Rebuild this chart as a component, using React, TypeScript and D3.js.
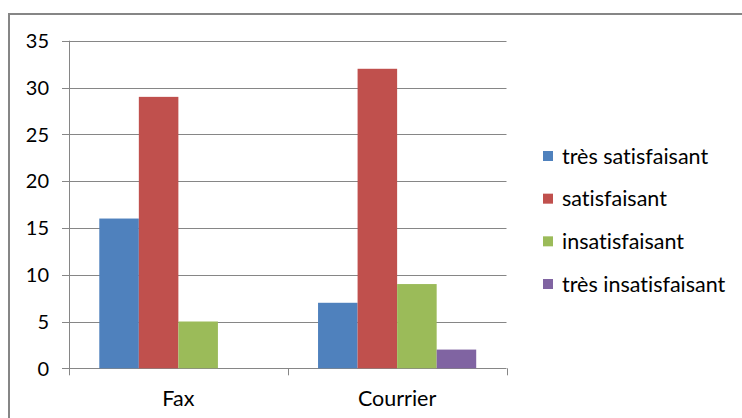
import React, { useEffect, useRef } from "react";
import * as d3 from "d3";

const categories = ["Fax", "Courrier"];
const seriesNames = ["très satisfaisant", "satisfaisant", "insatisfaisant", "très insatisfaisant"];
const seriesColors = ["#4F81BD", "#C0504D", "#9BBB59", "#8064A2"];
const faxValues = [16, 29, 5, 0];
const courrierValues = [7, 32, 9, 2];
const yTicks = [0, 5, 10, 15, 20, 25, 30, 35];

const values = [faxValues, courrierValues];
const FONT = "Lato, 'Open Sans', sans-serif";

const App: React.FC = () => {
  const svgRef = useRef<SVGSVGElement>(null);

  useEffect(() => {
    if (!svgRef.current) return;
    document.body.style.margin = "0";
    const svg = d3.select(svgRef.current);
    svg.selectAll("*").remove();

    // chart frame
    svg
      .append("rect")
      .attr("x", 9)
      .attr("y", 14)
      .attr("width", 800)
      .attr("height", 500)
      .attr("fill", "#fff")
      .attr("stroke", "#868686")
      .attr("stroke-width", 2);

    const left = 69;
    const right = 506.5;
    const top = 40.7;
    const bottom = 368.3;

    const x = d3.scaleBand().domain(categories).range([left, right]);
    const y = d3.scaleLinear().domain([0, 35]).range([bottom, top]);
    // gap width 150% -> outer padding of 0.75 bar on each side
    const inner = d3
      .scaleBand()
      .domain(seriesNames)
      .range([0, x.bandwidth()])
      .paddingOuter(0.766)
      .paddingInner(0);

    // gridlines
    svg
      .append("g")
      .selectAll("line")
      .data(yTicks)
      .enter()
      .append("line")
      .attr("x1", left - 7)
      .attr("x2", right)
      .attr("y1", (d) => Math.round(y(d)) + 0.5)
      .attr("y2", (d) => Math.round(y(d)) + 0.5)
      .attr("stroke", "#868686")
      .attr("stroke-width", 1);

    // y axis line
    svg
      .append("line")
      .attr("x1", left + 0.5)
      .attr("x2", left + 0.5)
      .attr("y1", top)
      .attr("y2", bottom + 1)
      .attr("stroke", "#868686");

    // category ticks
    const catTicks = [left, ...categories.map((c) => (x(c) || 0) + x.bandwidth())];
    svg
      .append("g")
      .selectAll("line")
      .data(catTicks)
      .enter()
      .append("line")
      .attr("x1", (d) => Math.round(d) + 0.5)
      .attr("x2", (d) => Math.round(d) + 0.5)
      .attr("y1", bottom)
      .attr("y2", bottom + 7)
      .attr("stroke", "#868686");

    // bars
    categories.forEach((c, ci) => {
      svg
        .append("g")
        .selectAll("rect")
        .data(values[ci])
        .enter()
        .append("rect")
        .attr("x", (_d, i) => (x(c) || 0) + (inner(seriesNames[i]) || 0))
        .attr("y", (d) => y(d))
        .attr("width", inner.bandwidth())
        .attr("height", (d) => y(0) - y(d))
        .attr("fill", (_d, i) => seriesColors[i]);
    });

    // y tick labels
    svg
      .append("g")
      .selectAll("text")
      .data(yTicks)
      .enter()
      .append("text")
      .attr("x", 49)
      .attr("y", (d) => y(d))
      .attr("dy", "0.36em")
      .attr("text-anchor", "end")
      .attr("font-family", FONT)
      .attr("font-size", 20)
      .attr("fill", "#000")
      .text((d) => d);

    // category labels
    svg
      .append("g")
      .selectAll("text")
      .data(categories)
      .enter()
      .append("text")
      .attr("x", (d) => (x(d) || 0) + x.bandwidth() / 2)
      .attr("y", 406)
      .attr("text-anchor", "middle")
      .attr("font-family", FONT)
      .attr("font-size", 21.5)
      .attr("fill", "#000")
      .text((d) => d);

    // legend
    const legendY = d3.scalePoint().domain(seriesNames).range([156, 284]);
    const lg = svg
      .append("g")
      .selectAll("g")
      .data(seriesNames)
      .enter()
      .append("g")
      .attr("transform", (d) => `translate(543,${legendY(d)})`);
    lg.append("rect")
      .attr("x", 0)
      .attr("y", -5)
      .attr("width", 10)
      .attr("height", 10)
      .attr("fill", (_d, i) => seriesColors[i]);
    lg.append("text")
      .attr("x", 19)
      .attr("y", 0)
      .attr("dy", "0.36em")
      .attr("font-family", FONT)
      .attr("font-size", 21.5)
      .attr("fill", "#000")
      .style("font-variant-ligatures", "none")
      .text((d) => d);
  }, []);

  return (
    <div style={{ position: "absolute", left: 0, top: 0 }}>
      <svg ref={svgRef} width={742} height={418} style={{ display: "block" }}></svg>
    </div>
  );
};

export default App;
